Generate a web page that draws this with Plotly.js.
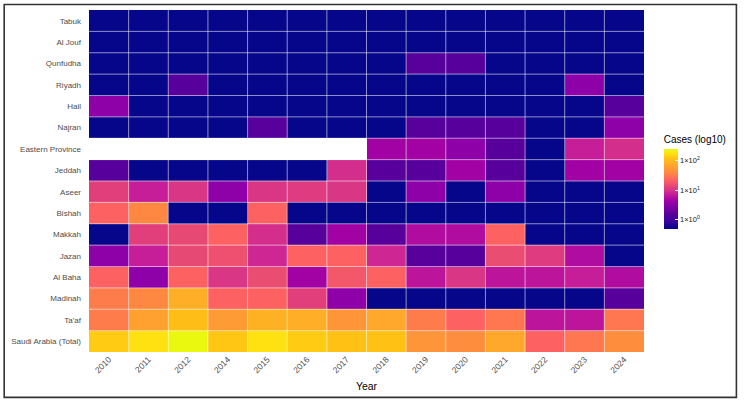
<!DOCTYPE html>
<html>
<head>
<meta charset="utf-8">
<script src="https://cdn.plot.ly/plotly-3.0.1.min.js"></script>
<style>
  html, body { margin: 0; padding: 0; background: #ffffff; }
  #chart { width: 745px; height: 403px; }
</style>
</head>
<body>
<div id="chart"></div>
<script>
// Reported cases per region and year (null = region not reported that year)
const years = ["2010", "2011", "2012", "2014", "2015", "2016", "2017",
               "2018", "2019", "2020", "2021", "2022", "2023", "2024"];

const regions = ["Tabuk", "Al Jouf", "Qunfudha", "Riyadh", "Hail", "Najran",
                 "Eastern Province", "Jeddah", "Aseer", "Bishah", "Makkah",
                 "Jazan", "Al Baha", "Madinah", "Ta'af", "Saudi Arabia (Total)"];

const tabuk     = [0, 0, 0, 0, 0, 0, 0, 0, 0, 0, 0, 0, 0, 0];
const alJouf    = [0, 0, 0, 0, 0, 0, 0, 0, 0, 0, 0, 0, 0, 0];
const qunfudha  = [0, 0, 0, 0, 0, 0, 0, 0, 1, 1, 0, 0, 0, 0];
const riyadh    = [0, 0, 1, 0, 0, 0, 0, 0, 0, 0, 0, 0, 3, 0];
const hail      = [3, 0, 0, 0, 0, 0, 0, 0, 0, 0, 0, 0, 0, 1];
const najran    = [0, 0, 0, 0, 1, 0, 0, 0, 1, 1, 1, 0, 0, 3];
const eastern   = [null, null, null, null, null, null, null, 4, 4, 3, 1, 0, 7, 9];
const jeddah    = [1, 0, 0, 0, 0, 0, 9, 1, 1, 4, 1, 0, 4, 4];
const aseer     = [12, 7, 10, 3, 10, 11, 10, 0, 3, 0, 3, 0, 0, 0];
const bishah    = [22, 38, 0, 0, 22, 0, 0, 0, 0, 0, 0, 0, 0, 0];
const makkah    = [0, 12, 14, 22, 9, 1, 4, 1, 5, 5, 22, 0, 0, 0];
const jazan     = [3, 7, 14, 16, 8, 22, 22, 8, 1, 1, 15, 11, 5, 0];
const alBaha    = [22, 3, 22, 10, 15, 4, 18, 22, 6, 10, 6, 6, 7, 5];
const madinah   = [32, 38, 81, 22, 22, 12, 3, 0, 0, 0, 0, 0, 0, 1];
const taaf      = [32, 63, 112, 56, 87, 81, 50, 72, 32, 22, 30, 6, 6, 30];
const saudiTotal = [135, 174, 250, 127, 174, 135, 120, 120, 50, 43, 72, 22, 30, 43];

const caseRows = [tabuk, alJouf, qunfudha, riyadh, hail, najran, eastern, jeddah,
                  aseer, bishah, makkah, jazan, alBaha, madinah, taaf, saudiTotal];

// Legend ticks (log10 of cases)
const legendTickVals = [0, 1, 2];
const legendTickText = ["1×10<sup>0</sup>", "1×10<sup>1</sup>", "1×10<sup>2</sup>"];

// log10 fill with a half-case offset so zero counts stay on the scale
const OFFSET = 0.5;
const z = caseRows.map(row => row.map(v => (v === null ? null : Math.log10(v + OFFSET))));
const allVals = caseRows.flat().filter(v => v !== null);
const zMin = Math.log10(Math.min(...allVals) + OFFSET);
const zMax = Math.log10(Math.max(...allVals) + OFFSET);

// vivid plasma-style ramp: navy -> violet -> magenta -> coral -> orange -> yellow
const vividPlasma = [
  [0.00, "#06068a"], [0.10, "#3c029c"], [0.18, "#58009c"], [0.31, "#8c00a8"],
  [0.35, "#a000a4"], [0.44, "#c81e98"], [0.49, "#da3686"], [0.52, "#e2407a"],
  [0.56, "#ec5070"], [0.61, "#fd6062"], [0.70, "#fe8842"], [0.82, "#ffae28"],
  [0.88, "#ffc014"], [0.94, "#ffe010"], [1.00, "#eaf810"]
];

const FONT = "Liberation Sans, Arial, Helvetica, sans-serif";

const trace = {
  type: "heatmap",
  x: years,
  y: regions,
  z: z,
  zmin: zMin,
  zmax: zMax,
  colorscale: vividPlasma,
  hoverinfo: "skip",
  colorbar: {
    x: 1.0355, xanchor: "left", xpad: 0,
    y: 0.501, yanchor: "middle", ypad: 0,
    len: 96, lenmode: "pixels",
    thickness: 14, thicknessmode: "pixels",
    outlinewidth: 0,
    tickvals: legendTickVals,
    ticktext: legendTickText,
    ticks: "inside", ticklen: 3, tickcolor: "#ffffff", tickwidth: 1,
    tickfont: { family: FONT, size: 7.5, color: "#1a1a1a" },
    title: { text: "Cases (log10)", side: "top",
             font: { family: FONT, size: 10, color: "#000000" } }
  }
};

// thin translucent white separators between tiles
const shapes = [];
for (let i = 1; i < years.length; i++) {
  shapes.push({ type: "line", xref: "x", yref: "paper", x0: i - 0.5, x1: i - 0.5, y0: 0, y1: 1,
                line: { color: "rgba(255,255,255,0.55)", width: 1 } });
}
for (let j = 1; j < regions.length; j++) {
  shapes.push({ type: "line", xref: "paper", yref: "y", x0: 0, x1: 1, y0: j - 0.5, y1: j - 0.5,
                line: { color: "rgba(255,255,255,0.55)", width: 1 } });
}
// outer frame around the figure
shapes.push({ type: "rect", xref: "paper", yref: "paper",
              x0: -0.1528, x1: 1.1665, y0: -0.1326, y1: 1.0163,
              line: { color: "#333333", width: 1.6 }, fillcolor: "rgba(0,0,0,0)" });

const layout = {
  width: 745,
  height: 403,
  margin: { l: 89, r: 101, t: 10, b: 51, pad: 0 },
  paper_bgcolor: "#ffffff",
  plot_bgcolor: "#ffffff",
  font: { family: FONT },
  showlegend: false,
  xaxis: {
    type: "category",
    tickangle: -45,
    tickfont: { family: FONT, size: 8.5, color: "#4d4d4d" },
    ticks: "",
    showgrid: false,
    zeroline: false,
    showline: false,
    title: { text: "Year", font: { family: FONT, size: 10.5, color: "#000000" }, standoff: 8 }
  },
  yaxis: {
    type: "category",
    autorange: "reversed",
    tickfont: { family: FONT, size: 8, color: "#4d4d4d" },
    ticks: "",
    ticklabelstandoff: 7,
    showgrid: false,
    zeroline: false,
    showline: false
  },
  shapes: shapes
};

Plotly.newPlot("chart", [trace], layout, { displayModeBar: false, staticPlot: true });
</script>
</body>
</html>
